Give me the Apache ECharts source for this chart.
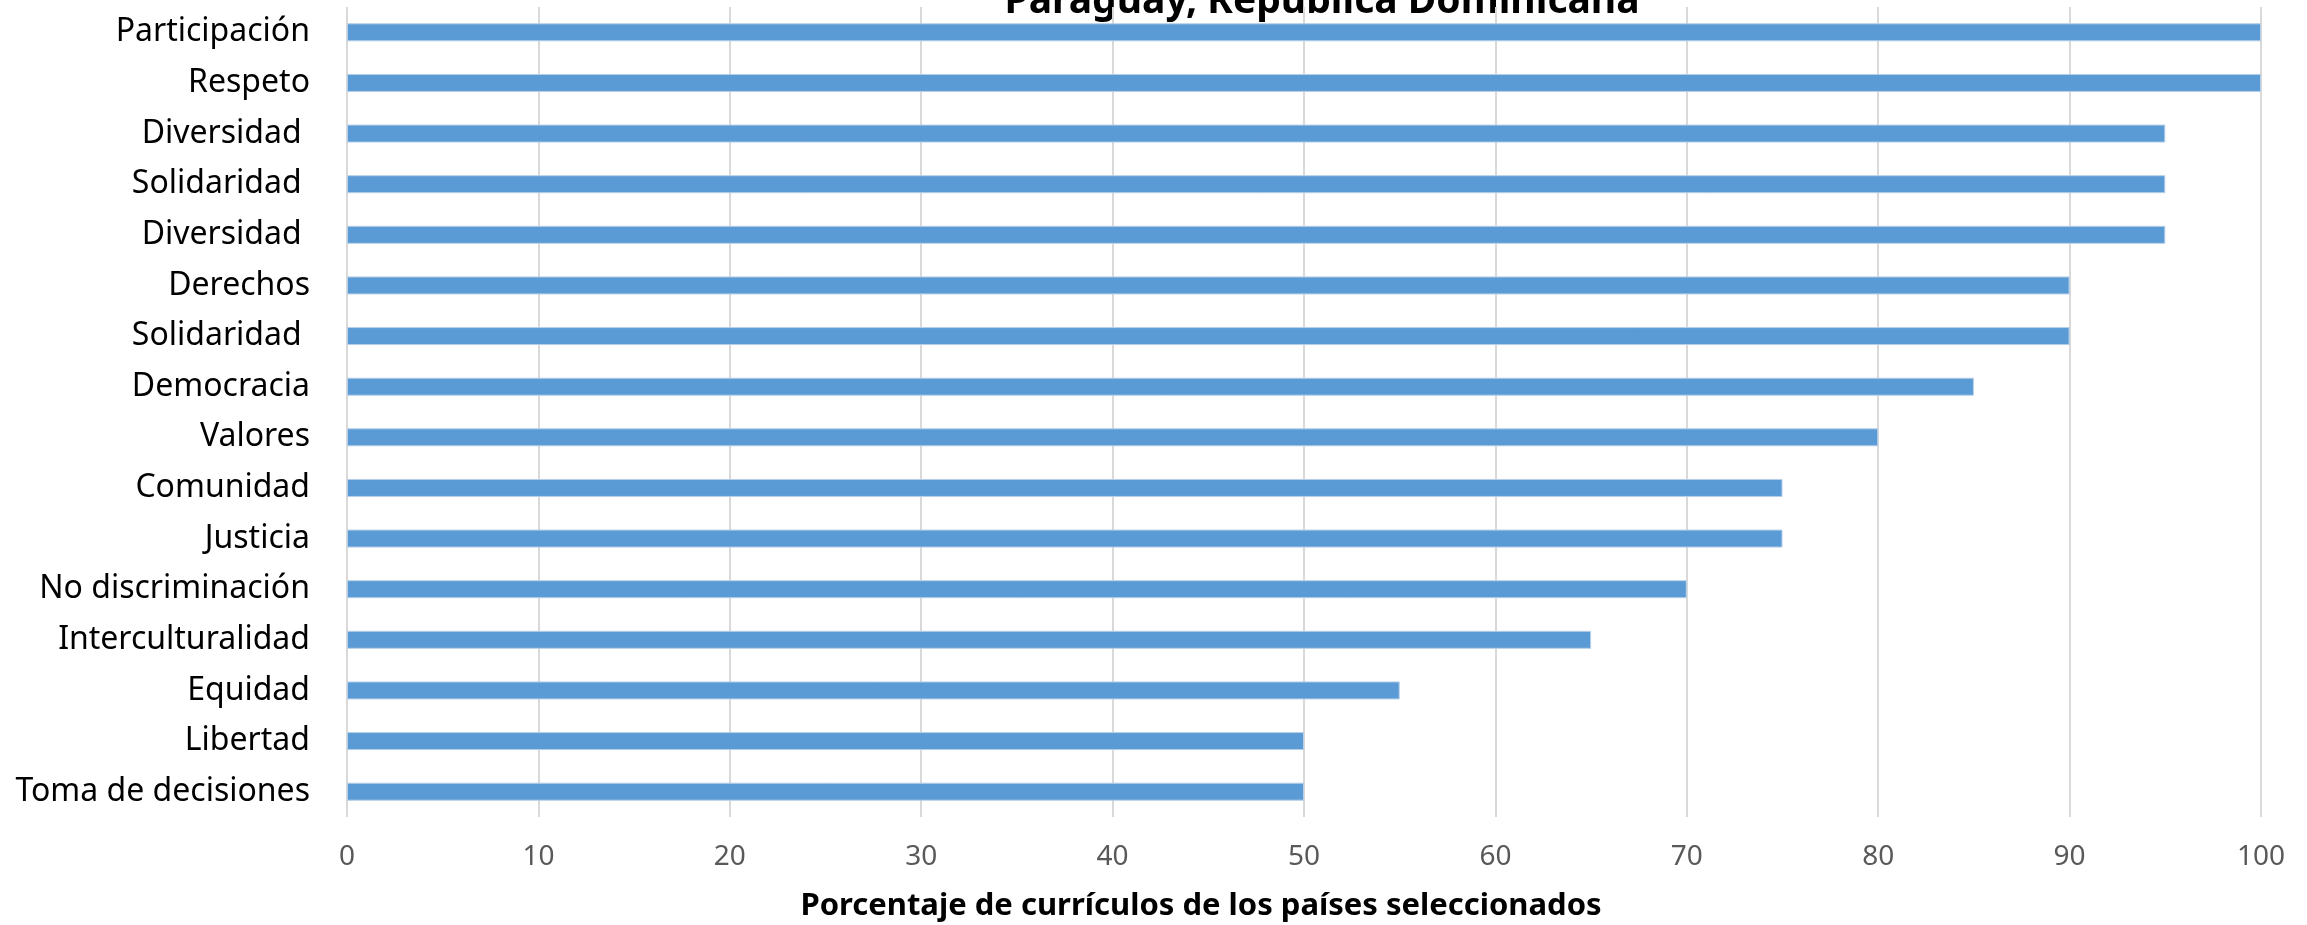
<!DOCTYPE html>
<html>
<head>
<meta charset="utf-8">
<script src="https://cdn.jsdelivr.net/npm/echarts@6/dist/echarts.min.js"></script>
<style>html,body{margin:0;padding:0;background:#fff}#c{width:2307px;height:925px}</style>
</head>
<body>
<div id="c"></div>
<script>
var categories = ["Participación","Respeto","Diversidad ","Solidaridad ","Diversidad ","Derechos","Solidaridad ","Democracia","Valores","Comunidad","Justicia","No discriminación","Interculturalidad","Equidad","Libertad","Toma de decisiones"];
var values = [100,100,95,95,95,90,90,85,80,75,75,70,65,55,50,50];
var xTicks = [0,10,20,30,40,50,60,70,80,90,100];
var titleText = "Paraguay, República Dominicana";
var axisTitle = "Porcentaje de currículos de los países seleccionados";

var chart = echarts.init(document.getElementById('c'), null, {renderer:'canvas'});
chart.setOption({
  animation:false,
  backgroundColor:'#ffffff',
  grid:{left:347,right:46,top:7,bottom:108,containLabel:false},
  xAxis:{
    type:'value', min:xTicks[0], max:xTicks[xTicks.length-1], interval:10,
    axisLine:{show:false}, axisTick:{show:false},
    splitLine:{show:true,lineStyle:{color:'#d9d9d9',width:2}},
    axisLabel:{color:'#595959',fontFamily:'Noto Sans',fontSize:28,margin:26}
  },
  yAxis:{
    type:'category', data:categories, inverse:true,
    axisLine:{show:false}, axisTick:{show:false},
    axisLabel:{color:'#000000',fontFamily:'Noto Sans',fontSize:32,margin:37}
  },
  series:[{
    type:'bar', data:values, barWidth:18,
    itemStyle:{color:'#5b9bd5',borderColor:'#b7cfe8',borderWidth:1}
  }],
  graphic:[
    {type:'text',style:{x:1322,y:21,text:titleText,fontFamily:'Noto Sans',fontWeight:'bold',fontSize:39,fill:'#000',align:'center',verticalAlign:'bottom'}},
    {type:'text',style:{x:1201,y:906,text:axisTitle,fontFamily:'Noto Sans',fontWeight:'bold',fontSize:31,fill:'#000',align:'center',verticalAlign:'middle'}}
  ]
});
</script>
</body>
</html>
